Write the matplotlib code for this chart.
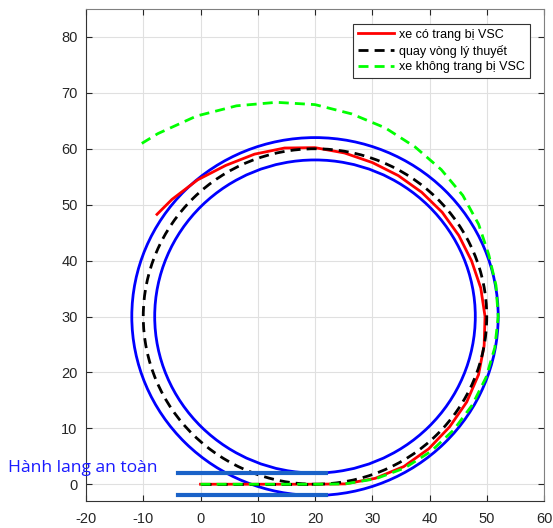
import numpy as np
import matplotlib
matplotlib.use('Agg')
import matplotlib.pyplot as plt
from matplotlib.patches import Circle

# track geometry (centre of the turn, lane edges, theoretical radius)
center_x, center_y = 20, 30
inner_r, outer_r = 28, 32
theory_r = 30
lead_x = [0, 20]          # straight lead-in along y = 0
corridor_x = [-4, 22]
corridor_y = [2, -2]

# vehicle with VSC: radius at angles around the centre
red_ang = [-90, -80, -70, -60, -50, -40, -30, -20, -10, 0, 10, 20, 30, 40,
           50, 60, 70, 80, 90, 100, 110, 120, 130, 140, 146.5]
red_r = [30.0, 30.4, 30.8, 31.0, 30.9, 30.7, 30.6, 30.4, 30.0, 29.7, 29.4,
         29.1, 29.0, 29.0, 29.0, 29.1, 29.3, 29.7, 30.2, 30.6, 30.9, 31.2,
         31.9, 32.6, 33.1]

# vehicle without VSC
green_ang = [-90, -80, -70, -60, -50, -40, -30, -20, -10, 0, 10, 20, 30, 40,
             50, 60, 70, 80, 90, 100, 110, 120, 130, 135]
green_r = [30.0, 30.4, 30.9, 31.3, 31.5, 31.6, 31.7, 31.8, 31.9, 32.0, 32.1,
           32.3, 33.0, 33.7, 34.3, 35.0, 35.9, 36.8, 37.9, 38.9, 40.1, 41.4,
           42.7, 43.4]

labels = ['xe có trang bị VSC', 'quay vòng lý thuyết', 'xe không trang bị VSC']


def polar_path(ang, r):
    a = np.radians(ang)
    x = center_x + np.asarray(r) * np.cos(a)
    y = center_y + np.asarray(r) * np.sin(a)
    return np.concatenate([[lead_x[0]], x]), np.concatenate([[0], y])


plt.rcParams['font.family'] = ['Liberation Sans', 'DejaVu Sans']
plt.rcParams['axes.unicode_minus'] = False

fig = plt.figure(figsize=(5.53, 5.28), dpi=100)
ax = fig.add_axes([86 / 553, 27 / 528, 458 / 553, 492 / 528])

# lane edges
for r in (inner_r, outer_r):
    ax.add_patch(Circle((center_x, center_y), r, fill=False, color='#0000ff', lw=2, zorder=2))

rx, ry = polar_path(red_ang, red_r)
ax.plot(rx, ry, color='#ff0000', lw=2, label=labels[0], zorder=3)

# theoretical turn: straight lead-in + circle
ax.plot(lead_x, [0, 0], color='k', lw=2, ls='--', dashes=(3.6, 2.2), label=labels[1], zorder=3)
ax.add_patch(Circle((center_x, center_y), theory_r, fill=False, color='k', lw=2,
                    ls=(0, (3.6, 2.2)), zorder=3))

gx, gy = polar_path(green_ang, green_r)
ax.plot(gx, gy, color='#00ff00', lw=2, ls='--', dashes=(3.6, 2.2), label=labels[2], zorder=4)

# safety corridor
for y in corridor_y:
    ax.plot(corridor_x, [y, y], color='#1a62c8', lw=3, zorder=5)

fig.text(8 / 553, 56 / 528, 'Hành lang an toàn', color='#1a1aff', fontsize=12.6,
         family='Open Sans', va='baseline')

ax.set_xlim(-20, 60)
ax.set_ylim(-3, 85)
ax.set_xticks(np.arange(-20, 61, 10))
ax.set_yticks(np.arange(0, 81, 10))
ax.grid(True, color='#e0e0e0', lw=0.8)
ax.set_axisbelow(True)
ax.tick_params(direction='in', length=4, labelsize=10.5, colors='#262626',
               top=True, right=True)
ax.tick_params(axis='x', pad=8)
ax.tick_params(axis='y', pad=6)
for side in ('left', 'bottom'):
    ax.spines[side].set_color('#333333')
for side in ('top', 'right'):
    ax.spines[side].set_color('#808080')

leg = ax.legend(loc='upper right', bbox_to_anchor=(0.97, 0.97), fontsize=9,
                handlelength=2.9, fancybox=False, framealpha=1,
                edgecolor='#333333', borderpad=0.4, labelspacing=0.3,
                handletextpad=0.4, borderaxespad=0)
leg.get_frame().set_linewidth(0.8)

fig.savefig('out.png', dpi=100)
